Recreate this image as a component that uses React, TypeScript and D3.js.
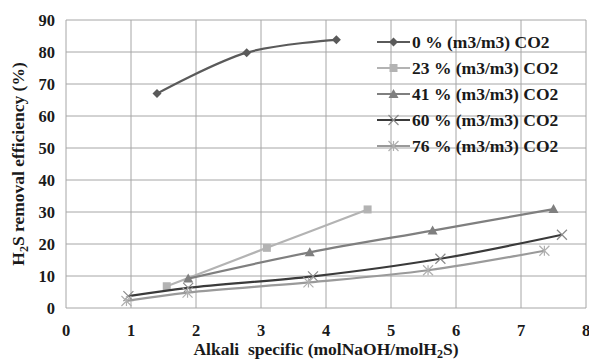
import React from "react";
import * as d3 from "d3";

const xTicks = [0, 1, 2, 3, 4, 5, 6, 7, 8];
const yTicks = [0, 10, 20, 30, 40, 50, 60, 70, 80, 90];

const seriesNames = [
  "0 % (m3/m3) CO2",
  "23 % (m3/m3) CO2",
  "41 % (m3/m3) CO2",
  "60 % (m3/m3) CO2",
  "76 % (m3/m3) CO2",
];
const seriesColors = ["#5a5a5a", "#b3b3b3", "#7f7f7f", "#3a3a3a", "#9a9a9a"];
const markerColors = ["#5a5a5a", "#b3b3b3", "#7f7f7f", "#8a8a8a", "#b0b0b0"];
const seriesMarkers = ["diamond", "square", "triangle", "x", "star"];

const s0x = [1.4, 2.78, 4.16];
const s0y = [67, 79.8, 83.8];
const s23x = [1.55, 3.09, 4.64];
const s23y = [6.8, 18.8, 30.8];
const s41x = [1.88, 3.75, 5.64, 7.5];
const s41y = [9.2, 17.4, 24.2, 30.9];
const s60x = [0.96, 1.88, 3.8, 5.76, 7.63];
const s60y = [3.7, 6.3, 9.9, 15.4, 22.9];
const s76x = [0.93, 1.87, 3.73, 5.57, 7.36];
const s76y = [2.2, 4.8, 8.0, 11.8, 17.9];

const allX = [s0x, s23x, s41x, s60x, s76x];
const allY = [s0y, s23y, s41y, s60y, s76y];

const W = 589;
const H = 363;
const L = 66, R = 586, T = 20, B = 308;

const FONT = "'Liberation Serif', 'Times New Roman', serif";

function Marker({ type, x, y, color }: { type: string; x: number; y: number; color: string }) {
  if (type === "diamond") {
    const s = 4.5;
    return <path d={`M${x},${y - s}L${x + s},${y}L${x},${y + s}L${x - s},${y}Z`} fill={color} />;
  }
  if (type === "square") {
    const s = 4;
    return <rect x={x - s} y={y - s} width={2 * s} height={2 * s} fill={color} />;
  }
  if (type === "triangle") {
    const s = 5;
    return <path d={`M${x},${y - s}L${x + s},${y + s * 0.8}L${x - s},${y + s * 0.8}Z`} fill={color} />;
  }
  if (type === "x") {
    const s = 5;
    return (
      <path d={`M${x - s},${y - s}L${x + s},${y + s}M${x - s},${y + s}L${x + s},${y - s}`} stroke={color} strokeWidth={1.2} fill="none" />
    );
  }
  const s = 5;
  return (
    <path
      d={`M${x - s},${y - s}L${x + s},${y + s}M${x - s},${y + s}L${x + s},${y - s}M${x},${y - s}L${x},${y + s}`}
      stroke={color}
      strokeWidth={1.2}
      fill="none"
    />
  );
}

export default function App() {
  const xScale = d3.scaleLinear().domain([0, 8]).range([L, R]);
  const yScale = d3.scaleLinear().domain([0, 90]).range([B, T]);
  const line = d3
    .line<[number, number]>()
    .x((d) => xScale(d[0]))
    .y((d) => yScale(d[1]))
    .curve(d3.curveCatmullRom.alpha(0.5));

  const tick: React.CSSProperties = { fontFamily: FONT, fontWeight: 700, fontSize: "16.5px" };
  const big: React.CSSProperties = { fontFamily: FONT, fontWeight: 700, fontSize: "17.5px" };

  return (
    <svg width={W} height={H} style={{ position: "absolute", left: 0, top: 0 }}>
      <rect width={W} height={H} fill="#ffffff" />
      {xTicks.map((t) => (
        <line key={"gx" + t} x1={xScale(t)} x2={xScale(t)} y1={T} y2={B} stroke="#a6a6a6" strokeWidth={1} />
      ))}
      {yTicks.map((t) => (
        <line key={"gy" + t} x1={L} x2={R} y1={yScale(t)} y2={yScale(t)} stroke="#a6a6a6" strokeWidth={1} />
      ))}
      {yTicks.map((t) => (
        <text key={"ty" + t} x={55} y={yScale(t)} dy="0.35em" textAnchor="end" style={tick} fill="#1a1a1a">
          {t}
        </text>
      ))}
      {xTicks.map((t) => (
        <text key={"tx" + t} x={xScale(t)} y={330} dy="0.35em" textAnchor="middle" style={tick} fill="#1a1a1a">
          {t}
        </text>
      ))}
      <text x={(L + R) / 2} y={349} dy="0.35em" textAnchor="middle" style={{ ...big, whiteSpace: "pre" }} fill="#1a1a1a">
        {"Alkali  specific (molNaOH/molH"}
        <tspan style={{ fontSize: "12px" }} dy="3">2</tspan>
        <tspan dy="-3">S)</tspan>
      </text>
      <text
        transform={`translate(18,${(T + B) / 2}) rotate(-90)`}
        dy="0.35em"
        textAnchor="middle"
        style={big}
        fill="#1a1a1a"
      >
        H<tspan style={{ fontSize: "12px" }} dy="4">2</tspan>
        <tspan dy="-4">S removal efficiency (%)</tspan>
      </text>
      {allX.map((xs, i) => {
        const pts = xs.map((x, j) => [x, allY[i][j]] as [number, number]);
        return (
          <g key={"s" + i}>
            <path d={line(pts) || ""} fill="none" stroke={seriesColors[i]} strokeWidth={2.2} />
            {pts.map((p, j) => (
              <Marker key={j} type={seriesMarkers[i]} x={xScale(p[0])} y={yScale(p[1])} color={markerColors[i]} />
            ))}
          </g>
        );
      })}
      {seriesNames.map((n, i) => {
        const y = 42 + i * 26;
        return (
          <g key={"lg" + i}>
            <line x1={377} x2={410} y1={y} y2={y} stroke={seriesColors[i]} strokeWidth={2.2} />
            <Marker type={seriesMarkers[i]} x={393.5} y={y} color={markerColors[i]} />
            <text x={412} y={y} dy="0.35em" style={big} fill="#1a1a1a">
              {n}
            </text>
          </g>
        );
      })}
    </svg>
  );
}
